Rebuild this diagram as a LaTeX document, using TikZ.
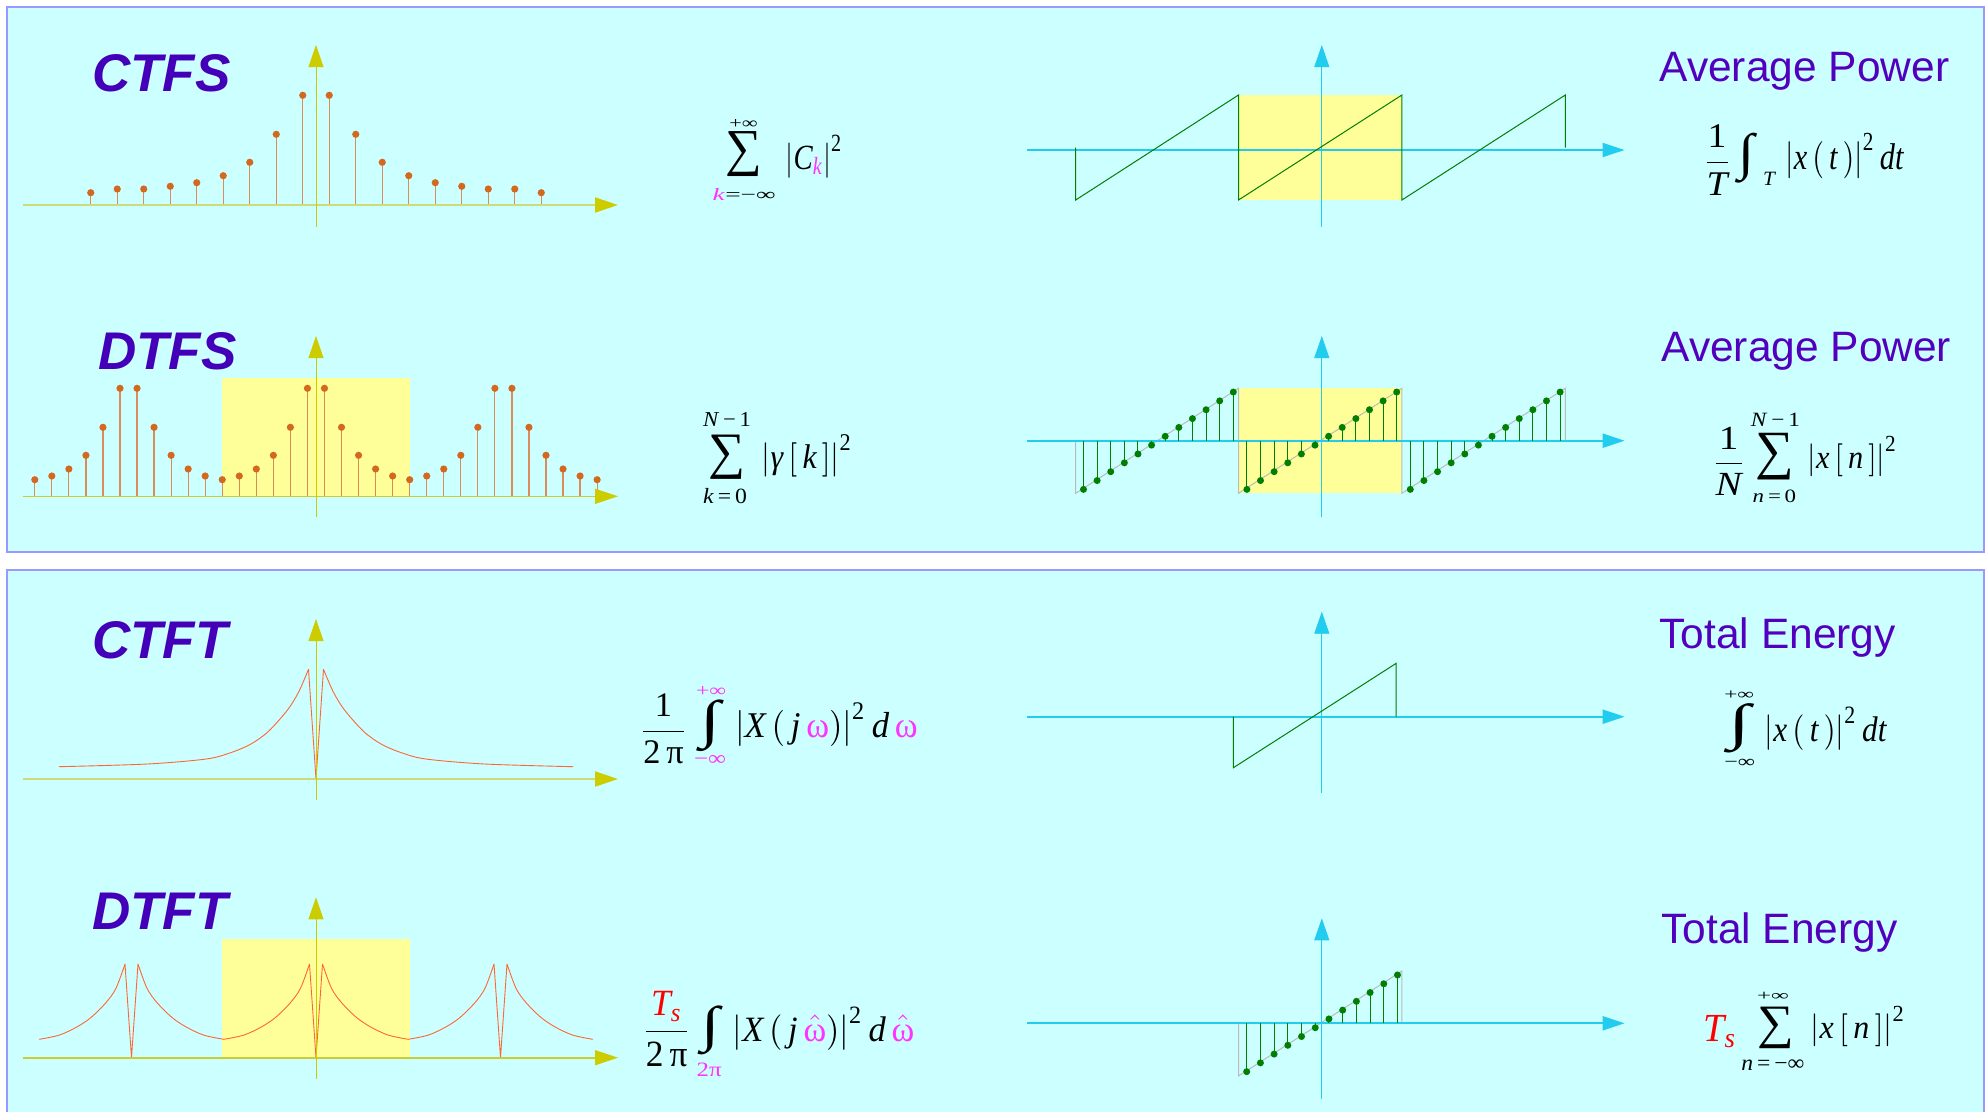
\documentclass[tikz,border=0pt]{standalone}
\usepackage{fontspec}
\usepackage{amsmath}
\usepackage{graphicx}
\usetikzlibrary{arrows.meta}
\setmainfont{Liberation Serif}
\newfontfamily\ttlfam{Liberation Sans}
\newcommand\ttlfnt{\ttlfam\bfseries\itshape\fontsize{53}{60}\selectfont}
\newcommand\lblfnt{\ttlfam\fontsize{42.5}{48}\selectfont}
\newcommand\fitin[3]{\resizebox*{#1pt}{#2pt}{$\displaystyle #3$}}
\newcommand\fitt[3]{\resizebox*{#1pt}{#2pt}{#3}}
\newcommand\vi[1]{\textit{#1}}
\newcommand\vu[1]{\textup{#1}}
\definecolor{panelfill}{HTML}{CCFFFF}
\definecolor{panelline}{HTML}{9999FF}
\definecolor{titlec}{HTML}{4400B8}
\definecolor{labc}{HTML}{5200BE}
\definecolor{axy}{HTML}{CCCC00}
\definecolor{axyl}{HTML}{CCDD77}
\definecolor{axyb}{HTML}{CCCC33}
\definecolor{axc}{HTML}{22CCEE}
\definecolor{stemc}{HTML}{D2691E}
\definecolor{stemlc}{HTML}{D98B5A}
\definecolor{crvc}{HTML}{FF6633}
\definecolor{grn}{HTML}{007F00}
\definecolor{hl}{HTML}{FFFF99}
\definecolor{mag}{HTML}{FF33FF}
\definecolor{gry}{HTML}{BBBBBB}
\tikzset{
  panel/.style={draw=panelline, line width=1.2pt, fill=panelfill},
  ttl/.style={font=\ttlfnt, text=titlec, inner sep=0pt, anchor=base west},
  lab/.style={font=\lblfnt, text=labc, inner sep=0pt, anchor=base west},
  frm/.style={inner sep=0pt, outer sep=0pt, anchor=north west},
  yaxA/.style={draw=axy, line width=0.9pt, -{Triangle[length=22pt,width=15pt,color=axy]}},
  xaxA/.style={draw=axyl, line width=2pt, -{Triangle[length=23pt,width=15pt,color=axy]}},
  xaxB/.style={draw=axyb, line width=1.6pt, -{Triangle[length=23pt,width=15pt,color=axy]}},
  yaxC/.style={draw=axc, line width=0.9pt, -{Triangle[length=22pt,width=15pt,color=axc]}},
  xaxC/.style={draw=axc, line width=2pt, -{Triangle[length=22pt,width=14pt,color=axc]}},
  stemln/.style={draw=stemlc, line width=1.2pt},
  crv/.style={draw=crvc, line width=0.9pt, line join=round},
  gstem/.style={draw=grn, line width=1pt},
  gsaw/.style={draw=grn, line width=1pt},
  graysaw/.style={draw=gry, line width=1pt},
  hlbox/.style={fill=hl}
}
\begin{document}
\begin{tikzpicture}[x=1pt,y=-1pt]
\useasboundingbox (0,0) rectangle (1986,1112);
\fill[white] (0,0) rectangle (1986,1112);
% panels
\path[panel] (7,7) rectangle (1984,552);
\fill[panelfill] (7,570) rectangle (1984,1112);
\draw[panelline, line width=1.2pt] (7,1112) -- (7,570) -- (1984,570) -- (1984,1112);

% ---------------- CTFS spectrum
\node[ttl] (tctfs) at (92,91) {CTFS};
\foreach \h [count=\i from 0] in {109.7,70.7,42.7,29.3,22.3,18.7,16,16,12.3} {
  \pgfmathsetmacro\dx{13.25+26.5*\i}
  \draw[stemln] (316+\dx,205) -- (316+\dx,205-\h);
  \draw[stemln] (316-\dx,205) -- (316-\dx,205-\h);
  \fill[stemc] (316+\dx,205-\h) circle (3.6);
  \fill[stemc] (316-\dx,205-\h) circle (3.6);
}
\draw[xaxA] (23,205) -- (618,205);
\draw[yaxA] (316,227) -- (316,45);

% ---------------- DTFS spectrum
\node[ttl] (tdtfs) at (98,369) {DTFS};
\path[hlbox] (222,378) rectangle (409.5,496.3);
\foreach \h [count=\i from 0] in {16.6,20.3,27.3,41,69,108,108,69,41,27.3,20.3,16.6,20.3,27.3,41,69,108,108,69,41,27.3,20.3,16.6,20.3,27.3,41,69,108,108,69,41,27.3,20.3,16.6} {
  \pgfmathsetmacro\xx{34.8+17.04*\i}
  \draw[stemln] (\xx,496.3) -- (\xx,496.3-\h);
  \fill[stemc] (\xx,496.3-\h) circle (3.6);
}
\draw[xaxB] (23,496.3) -- (618,496.3);
\draw[yaxA] (316,517) -- (316,336);

% ---------------- CTFT spectrum
\node[ttl] (tctft) at (92,658) {CTFT};
\draw[crv] plot[smooth] coordinates {(59,766.7) (147.3,764) (206.2,759) (230.6,752.7) (250.4,744.3) (268.1,731.7) (287.5,710) (298.8,691.7) (308.5,669.3)} -- (316,779) -- plot[smooth] coordinates {(323.5,669.3) (333.2,691.7) (344.5,710) (363.9,731.7) (381.6,744.3) (401.4,752.7) (425.8,759) (484.7,764) (573,766.7)};
\draw[xaxA] (23,779) -- (618,779);
\draw[yaxA] (316,800) -- (316,619);

% ---------------- DTFT spectrum
\node[ttl] (tdtft) at (92,929.3) {DTFT};
\path[hlbox] (222,939.3) rectangle (409.5,1057.7);
\foreach \c in {131.5,316,500.5} {
  \draw[crv] plot[smooth] coordinates {({\c-92.25},1039.3) ({\c-71.9},1035) ({\c-54.2},1026.7) ({\c-40.3},1017.3) ({\c-25.6},1002.7) ({\c-15.5},988.3) ({\c-6.5},964)} -- (\c,1057.7) -- plot[smooth] coordinates {({\c+6.5},964) ({\c+15.5},988.3) ({\c+25.6},1002.7) ({\c+40.3},1017.3) ({\c+54.2},1026.7) ({\c+71.9},1035) ({\c+92.25},1039.3)};
}
\draw[xaxB] (23,1057.7) -- (618,1057.7);
\draw[yaxA] (316,1079) -- (316,897.3);

% ---------------- middle formulas
% CTFS
\node[frm] (f1up) at (729.3,119) {\fitt{28.4}{9}{+∞}};
\node[frm] (f1sg) at (725,131.7) {\fitt{36.7}{45}{∑}};
\node[frm] (f1lo) at (712.7,188) {\fitt{63}{12}{\textcolor{mag}{\vi{k}}=−∞}};
\node[frm] (f1bd) at (785.7,135) {\fitin{57}{43}{\left|\vi{C}_{\textcolor{mag}{\vi{k}}}\right|^{\vu{2}}}};
% DTFS
\node[frm] (f2up) at (703,412.7) {\fitt{48}{14}{\vi{N}\,−\,1}};
\node[frm] (f2sg) at (708,435) {\fitt{37}{44.3}{∑}};
\node[frm] (f2lo) at (703,488) {\fitt{44}{15.3}{\vi{k}\,=\,0}};
\node[frm] (f2bd) at (761.7,435) {\fitin{90.6}{41.7}{\left|\vi{γ}\,[\,\vi{k}\,]\right|^{\vu{2}}}};
% CTFT
\node[frm] (f3fr) at (639.3,694) {\fitin{48.4}{70}{\frac{\vu{1}}{\vu{2\,π}}}};
\node[frm] (f3up) at (696,686.7) {\fitt{30}{10}{\textcolor{mag}{+∞}}};
\node[frm] (f3in) at (700,700) {\fitt{20}{51.7}{∫}};
\node[frm] (f3lo) at (694,755) {\fitt{32}{10}{\textcolor{mag}{−∞}}};
\node[frm] (f3bd) at (735,702.7) {\fitin{182.7}{44}{\left|\vi{X}\,(\,\vi{j}\,\textcolor{mag}{\vu{ω}})\right|^{\vu{2}}\vi{d}\,\textcolor{mag}{\vu{ω}}}};
% DTFT
\node[frm] (f4fr) at (641.7,991.7) {\fitin{50}{75}{\frac{\textcolor{red}{\vi{T}_{\vi{s}}}}{\vu{2\,π}}}};
\node[frm] (f4in) at (701.7,1006) {\fitt{18.3}{49}{∫}};
\node[frm] (f4lo) at (696.7,1063) {\fitt{25}{13.7}{\textcolor{mag}{2π}}};
\node[frm] (f4bd) at (732.7,1006.7) {\fitin{181.6}{43.3}{\left|\vi{X}\,(\,\vi{j}\,{\color{mag}\hat{\vu{ω}}})\right|^{\vu{2}}\vi{d}\,{\color{mag}\hat{\vu{ω}}}}};

% ---------------- CTFS time signal
\path[hlbox] (1238.5,95) rectangle (1401.9,200);
\draw[xaxC] (1026.5,150) -- (1624.6,150);
\draw[yaxC] (1321.8,226.7) -- (1321.8,45);
\draw[gsaw] (1075.7,147.5) -- (1075.7,200) -- (1238.5,95) -- (1238.5,200) -- (1401.9,95) -- (1401.9,200) -- (1565.3,95) -- (1565.3,147.5);
\node[lab] (ap1) at (1659.3,81.7) {Average Power};
\node[frm] (f5fr) at (1702,125) {\fitin{30}{70}{\frac{\vu{1}}{\vi{T}}}};
\node[frm] (f5in) at (1738,133) {\fitt{16}{50}{∫}};
\node[frm] (f5lo) at (1763,171.7) {\fitt{13}{13.3}{\vi{T}}};
\node[frm] (f5bd) at (1785.5,133) {\fitin{118}{45.3}{\left|\vi{x}\,(\,\vi{t}\,)\right|^{\vu{2}}\vi{dt}}};

% ---------------- DTFS time signal
\path[hlbox] (1238.5,388.3) rectangle (1401.9,493.3);
\draw[graysaw] (1075.7,440.7) -- (1075.7,493.3) -- (1238.5,388.3) -- (1238.5,493.3) -- (1401.9,388.3) -- (1401.9,493.3) -- (1565.3,388.3) -- (1565.3,440.7);
\draw[xaxC] (1026.5,440.7) -- (1624.6,440.7);
\draw[yaxC] (1321.8,516.7) -- (1321.8,336);
\foreach \pc in {1158.4,1321.8,1485.2} {
  \foreach \m in {-5.5,-4.5,...,5.5} {
    \pgfmathsetmacro\xx{\pc+13.62*\m}
    \pgfmathsetmacro\yy{440.7-8.85*\m}
    \draw[gstem] (\xx,440.7) -- (\xx,\yy);
    \fill[grn] (\xx,\yy) circle (3.5);
  }
}
\node[lab] (ap2) at (1661.2,361) {Average Power};
\node[frm] (f6fr) at (1711,426.7) {\fitin{35.4}{68.3}{\frac{\vu{1}}{\vi{N}}}};
\node[frm] (f6up) at (1750.8,413.3) {\fitt{49.2}{13.4}{\vi{N}\,−\,1}};
\node[frm] (f6sg) at (1755,433.3) {\fitt{38.7}{46.7}{∑}};
\node[frm] (f6lo) at (1752.7,490) {\fitt{43.5}{12.7}{\vi{n}\,=\,0}};
\node[frm] (f6bd) at (1807.6,436.7) {\fitin{89.6}{40}{\left|\vi{x}\,[\,\vi{n}\,]\right|^{\vu{2}}}};

% ---------------- CTFT time signal
\draw[xaxC] (1026.5,716.7) -- (1624.6,716.7);
\draw[yaxC] (1321.8,792.7) -- (1321.8,611.7);
\draw[gsaw] (1233.4,716.7) -- (1233.4,767.7) -- (1396.2,663.3) -- (1396.2,716.7);
\node[lab] (te1) at (1659.3,648.3) {Total Energy};
\node[frm] (f7up) at (1724.3,690.7) {\fitt{29.7}{8.6}{+∞}};
\node[frm] (f7in) at (1728.7,703.3) {\fitt{22}{49.4}{∫}};
\node[frm] (f7lo) at (1724.3,759) {\fitt{30.7}{8.3}{−∞}};
\node[frm] (f7bd) at (1764.7,706.7) {\fitin{121.7}{43.3}{\left|\vi{x}\,(\,\vi{t}\,)\right|^{\vu{2}}\vi{dt}}};

% ---------------- DTFT time signal
\draw[graysaw] (1238.5,1023.3) -- (1238.5,1076) -- (1401.9,971) -- (1401.9,1023.3);
\draw[xaxC] (1026.5,1023.3) -- (1624.6,1023.3);
\draw[yaxC] (1321.8,1099.3) -- (1321.8,918.3);
\foreach \m in {-5.5,-4.5,...,5.5} {
  \pgfmathsetmacro\xx{1322.1+13.71*\m}
  \pgfmathsetmacro\yy{1023.3-8.79*\m}
  \draw[gstem] (\xx,1023.3) -- (\xx,\yy);
  \fill[grn] (\xx,\yy) circle (3.5);
}
\node[lab] (te2) at (1661.2,943.3) {Total Energy};
\node[frm] (f8ts) at (1703.5,1015) {\fitin{33.5}{32.3}{\textcolor{red}{\vi{T}_{\vi{s}}}}};
\node[frm] (f8up) at (1757,991.7) {\fitt{31.7}{8.3}{+∞}};
\node[frm] (f8sg) at (1757,1006.7) {\fitt{36.7}{41.6}{∑}};
\node[frm] (f8lo) at (1741.3,1060) {\fitt{63.1}{10.7}{\vi{n}\,=\,−∞}};
\node[frm] (f8bd) at (1810.7,1006.7) {\fitin{94.7}{40}{\left|\vi{x}\,[\,\vi{n}\,]\right|^{\vu{2}}}};
\end{tikzpicture}
\end{document}
